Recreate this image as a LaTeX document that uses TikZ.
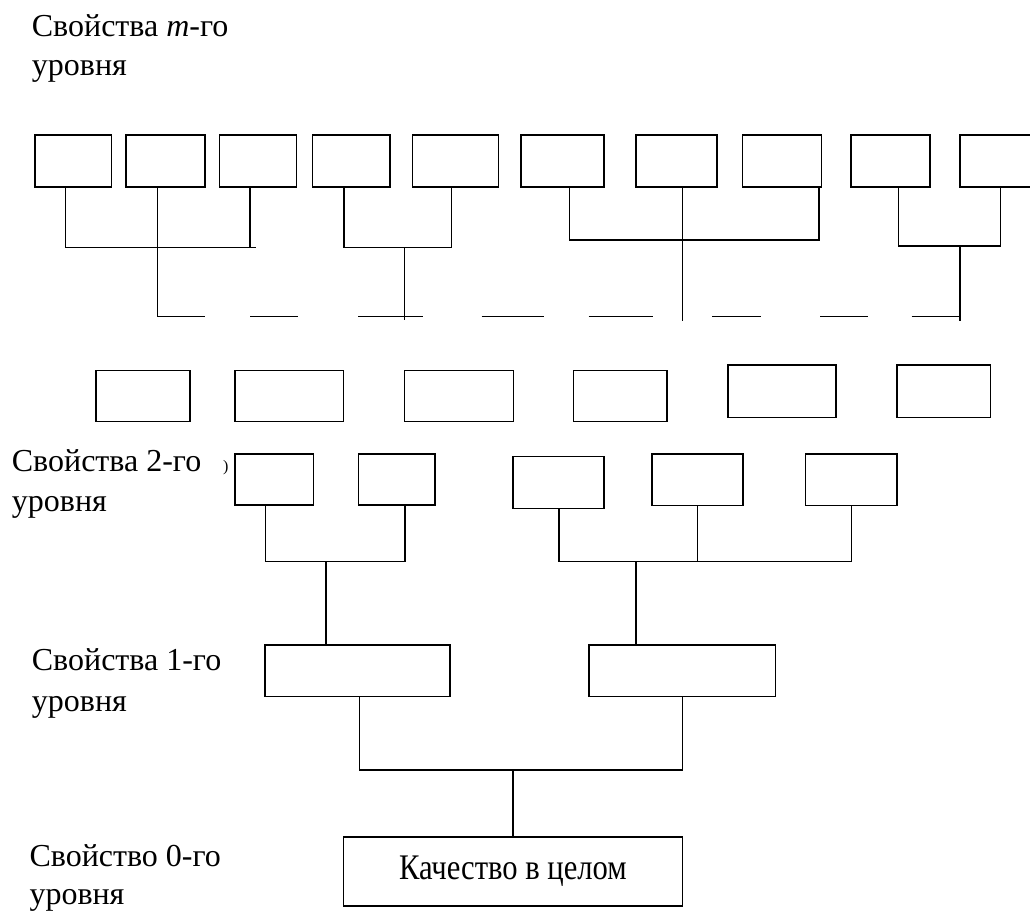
\documentclass[tikz,border=0pt]{standalone}
\usepackage{fontspec}
\setmainfont{Liberation Serif}
\newfontfamily\qfont[FakeStretch=0.85]{Liberation Serif}
\newcommand\mybox[6][]{\node[box,#1,minimum width={#4-#2},minimum height={#5-#3}] (#6) at ({(#2+#4)/2},{(#3+#5)/2}) {};}
\tikzset{
  box/.style={draw,line width=1.5pt,inner sep=0pt,fill=white},
  conn/.style={line width=1.5pt,line cap=rect},
  lbl/.style={anchor=base west,inner sep=0pt,font=\fontsize{32}{38}\selectfont},
}
\begin{document}
\begin{tikzpicture}[x=1pt,y=-1pt]
\useasboundingbox (0,0) rectangle (1030,913);
\clip (0,0) rectangle (1030,913);
% labels
\node[lbl] (lm1) at (31.7,36.7) {Свойства \textit{m}-го};
\node[lbl] (lm2) at (31.7,75) {уровня};
\node[lbl] (l21) at (11.7,471.7) {Свойства 2-го};
\node[lbl] (l22) at (11.7,511.7) {уровня};
\node[anchor=base west,inner sep=0pt,font=\fontsize{16}{18}\selectfont] (par) at (223,471) {)};
\node[lbl] (l11) at (31.7,670) {Свойства 1-го};
\node[lbl] (l12) at (31.7,711.7) {уровня};
\node[lbl] (l01) at (29.3,866.5) {Свойство 0-го};
\node[lbl] (l02) at (29.3,904.5) {уровня};
% top row (m-th level)
\mybox{35}{135}{111.7}{187}{t1}
\mybox{126}{135}{205}{187}{t2}
\mybox{219.3}{135}{296.7}{187}{t3}
\mybox{312.7}{135}{390}{187}{t4}
\mybox{412.7}{135}{498.3}{187}{t5}
\mybox{521}{135}{604}{187}{t6}
\mybox{636}{135}{717}{187}{t7}
\mybox{742.6}{135}{821.6}{187}{t8}
\mybox{851}{135}{930}{187}{t9}
\mybox{960}{135}{1045}{187}{t10}
% junction coordinates, top
\coordinate (g1a) at (65.7,247.3);
\coordinate (g1b) at (157.7,316.7);
\coordinate (g1c) at (250,247.3);
\coordinate (g1e) at (255,247.3);
\coordinate (g2a) at (344,247.3);
\coordinate (g2b) at (451.7,247.3);
\coordinate (g2m) at (404.3,247.3);
\coordinate (g2d) at (404.3,319.3);
\coordinate (g3a) at (569.3,240);
\coordinate (g3b) at (819,240);
\coordinate (g3d) at (682.4,320);
\coordinate (g4a) at (898.6,246);
\coordinate (g4b) at (1000.7,246);
\coordinate (g4m) at (960,246);
\coordinate (g4d) at (960,320);
% group 1
\draw[conn] (t1.south -| g1a) -- (g1a) -- (g1e);
\draw[conn] (t3.south -| g1c) -- (g1c);
\draw[conn] (t2.south -| g1b) -- (g1b);
% group 2
\draw[conn] (t4.south -| g2a) -- (g2a) -- (g2b) -- (t5.south -| g2b);
\draw[conn] (g2m) -- (g2d);
% group 3
\draw[conn] (t6.south -| g3a) -- (g3a) -- (g3b) -- (t8.south -| g3b);
\draw[conn] (t7.south -| g3d) -- (g3d);
% group 4
\draw[conn] (t9.south -| g4a) -- (g4a) -- (g4b) -- (t10.south -| g4b);
\draw[conn] (g4m) -- (g4d);
% broken line (dashes)
\foreach \a/\b in {157.7/205,250/298.3,358.3/422.7,481.7/544,588.5/652.7,712/761,820/867.6,911.5/960}
  \draw[conn,line cap=butt] (\a,316.7) -- (\b,316.7);
% row 3
\mybox{96}{370.7}{190}{421.7}{a1}
\mybox{235}{370.7}{343.3}{421.7}{a2}
\mybox{404.3}{370.7}{513.3}{421.7}{a3}
\mybox{573.6}{370.7}{667}{421.7}{a4}
\mybox{728}{365}{836}{417.3}{a5}
\mybox{897}{365}{990.5}{417.3}{a6}
% level 2
\mybox{235}{454}{313.3}{505}{s1}
\mybox{358.3}{454}{435}{505}{s2}
\mybox{512.8}{456.7}{604}{508.3}{s3}
\mybox{652}{454}{743}{505.7}{s4}
\mybox{805.7}{454}{897}{505.7}{s5}
% level 1
\mybox{265}{645}{450}{696.7}{p1}
\mybox{589}{645}{775.7}{696.7}{p2}
% level 0
\node[box,minimum width={682.5-343.3},minimum height={906-837},font=\qfont\fontsize{36}{40}\selectfont] (q) at ({(343.3+682.5)/2},{(837+906)/2}) {Качество в целом};
% connectors level 2 -> 1
\coordinate (h1a) at (265.7,561.7);
\coordinate (h1b) at (405,561.7);
\coordinate (h1m) at (326,561.7);
\draw[conn] (s1.south -| h1a) -- (h1a) -- (h1b) -- (s2.south -| h1b);
\draw[conn] (h1m) -- (p1.north -| h1m);
\coordinate (h2a) at (559,561.7);
\coordinate (h2b) at (697.6,561.7);
\coordinate (h2c) at (851.4,561.7);
\coordinate (h2m) at (636,561.7);
\draw[conn] (s3.south -| h2a) -- (h2a) -- (h2c) -- (s5.south -| h2c);
\draw[conn] (s4.south -| h2b) -- (h2b);
\draw[conn] (h2m) -- (p2.north -| h2m);
% connectors level 1 -> 0
\coordinate (k1) at (359.3,770);
\coordinate (k2) at (682.5,770);
\coordinate (km) at (513,770);
\draw[conn] (p1.south -| k1) -- (k1) -- (k2) -- (p2.south -| k2);
\draw[conn] (km) -- (q.north -| km);
\end{tikzpicture}
\end{document}
